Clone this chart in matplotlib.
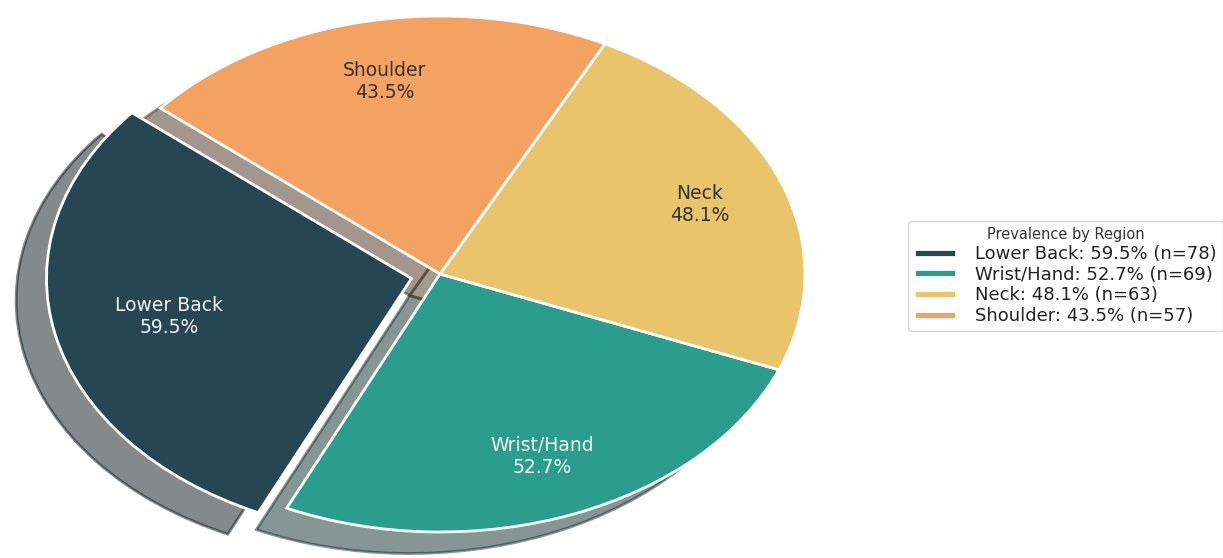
import numpy as np
import matplotlib.pyplot as plt

# data
regions = ['Lower Back', 'Wrist/Hand', 'Neck', 'Shoulder']
counts = [78, 69, 63, 57]
prevalence = [59.5, 52.7, 48.1, 43.5]
colors = ['#264653', '#2a9d8f', '#e9c46a', '#f4a261']
explode = [0.08, 0, 0, 0]

pie_labels = [f'{r}\n{p}%' for r, p in zip(regions, prevalence)]
legend_labels = [f'{r}: {p}% (n={n})' for r, p, n in zip(regions, prevalence, counts)]

fig = plt.figure(figsize=(12.23, 5.58), dpi=100)
ax = fig.add_axes([0, 0, 1, 1])

wedges, texts = ax.pie(counts, explode=explode, colors=colors, startangle=140,
                       labels=pie_labels, labeldistance=0.76,
                       shadow={'ox': -0.06, 'oy': -0.06},
                       wedgeprops=dict(edgecolor='white', linewidth=2),
                       textprops=dict(fontsize=13.5))

text_colors = ['#f2f2f2', '#f2f2f2', '#333333', '#333333']
for w, t, c, e in zip(wedges, texts, text_colors, explode):
    # keep the label near the slice body, not pushed out by the explode
    ang = np.deg2rad((w.theta1 + w.theta2) / 2)
    x, y = t.get_position()
    t.set_position((x - e * np.cos(ang), y - e * np.sin(ang)))
    t.set_ha('center')
    t.set_va('center')
    t.set_multialignment('center')
    t.set_color(c)

# the picture is stretched horizontally
ax.set_aspect('auto')
ax.set_xlim(-440 / 365, (1223 - 440) / 365)
ax.set_ylim(-(558 - 274) / 258, 274 / 258)

leg = ax.legend(wedges, legend_labels, title='Prevalence by Region',
                loc='upper left', bbox_to_anchor=(908 / 1223, 1 - 221 / 558),
                bbox_transform=fig.transFigure, borderaxespad=0,
                fontsize=13, title_fontsize=10.5, labelspacing=0.15,
                handlelength=2.3, handleheight=0.3, handletextpad=1.05,
                borderpad=0.35)
for t in leg.get_texts():
    t.set_color('#222222')
leg.get_title().set_color('#333333')

fig.savefig('out.png', dpi=100)
